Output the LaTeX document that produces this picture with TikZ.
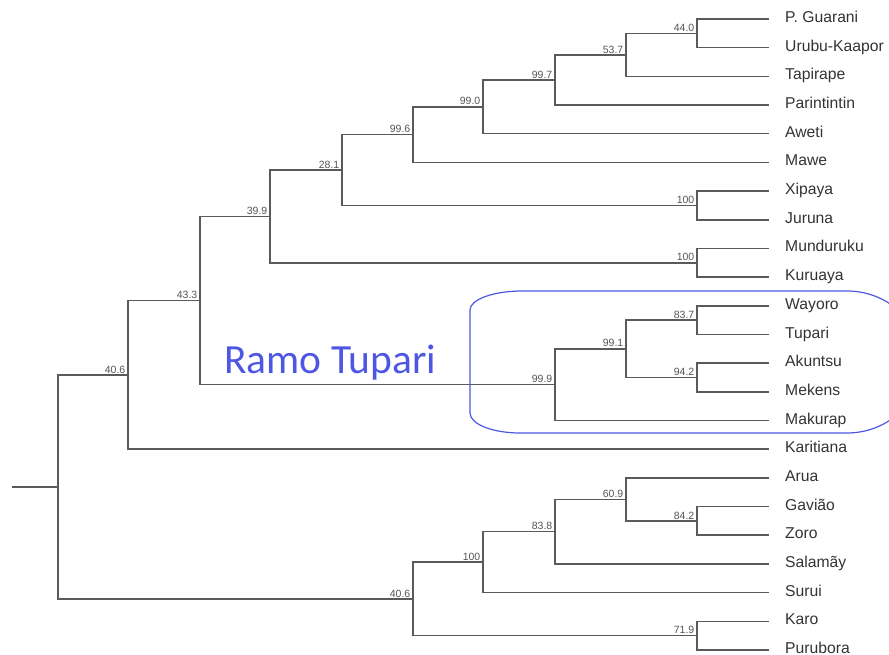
\documentclass[tikz,border=0pt]{standalone}
\usepackage{fontspec}
\setmainfont{Liberation Sans}
\newfontfamily\cladefont{Carlito}
\definecolor{treegray}{HTML}{5A5A5A}
\definecolor{labelgray}{HTML}{333333}
\definecolor{bootgray}{HTML}{555555}
\definecolor{cladeblue}{RGB}{78,86,228}
\begin{document}
\begin{tikzpicture}[x=1pt,y=-1pt,
  branch/.style={draw=treegray, line width=1.6pt},
  taxon/.style={anchor=west, inner xsep=16pt, inner ysep=0pt,
    text height=7pt, text depth=0pt,
    font=\fontsize{15.7}{16}\selectfont, text=labelgray},
  boot/.style={anchor=south east, inner xsep=2.5pt, inner ysep=1.5pt,
    font=\fontsize{10.5}{12}\selectfont, text=bootgray},
  clade/.style={draw=cladeblue, line width=1.2pt}]
\useasboundingbox (0,0) rectangle (889,655);

% taxa (tips of the tree end at x = 769)
\node[taxon] (pguarani)   at (769, 19.0) {P. Guarani};
\node[taxon] (urubu)      at (769, 47.7) {Urubu-Kaapor};
\node[taxon] (tapirape)   at (769, 76.4) {Tapirape};
\node[taxon] (parintin)   at (769,105.0) {Parintintin};
\node[taxon] (aweti)      at (769,133.7) {Aweti};
\node[taxon] (mawe)       at (769,162.4) {Mawe};
\node[taxon] (xipaya)     at (769,191.1) {Xipaya};
\node[taxon] (juruna)     at (769,219.8) {Juruna};
\node[taxon] (munduruku)  at (769,248.4) {Munduruku};
\node[taxon] (kuruaya)    at (769,277.1) {Kuruaya};
\node[taxon] (wayoro)     at (769,305.8) {Wayoro};
\node[taxon] (tupari)     at (769,334.5) {Tupari};
\node[taxon] (akuntsu)    at (769,363.2) {Akuntsu};
\node[taxon] (mekens)     at (769,391.8) {Mekens};
\node[taxon] (makurap)    at (769,420.5) {Makurap};
\node[taxon] (karitiana)  at (769,449.2) {Karitiana};
\node[taxon] (arua)       at (769,477.9) {Arua};
\node[taxon] (gaviao)     at (769,506.6) {Gavião};
\node[taxon] (zoro)       at (769,535.2) {Zoro};
\node[taxon] (salamay)    at (769,563.9) {Salamãy};
\node[taxon] (surui)      at (769,592.6) {Surui};
\node[taxon] (karo)       at (769,621.3) {Karo};
\node[taxon] (purubora)   at (769,650.0) {Purubora};

% internal nodes
\coordinate (n440)  at (697, 33.4);
\coordinate (n537)  at (626, 54.9);
\coordinate (n997)  at (555, 80.0);
\coordinate (n990)  at (483,106.8);
\coordinate (n996)  at (413,134.6);
\coordinate (nxj)   at (697,205.4);
\coordinate (n281)  at (342,170.0);
\coordinate (nmk)   at (697,262.8);
\coordinate (n399)  at (270,216.4);
\coordinate (n837)  at (697,320.1);
\coordinate (n942)  at (697,377.5);
\coordinate (n991)  at (626,348.8);
\coordinate (n999)  at (555,384.6);
\coordinate (n433)  at (200,300.5);
\coordinate (n406a) at (128,374.9);
\coordinate (n842)  at (697,520.9);
\coordinate (n609)  at (626,499.4);
\coordinate (n838)  at (555,531.6);
\coordinate (n100b) at (483,562.1);
\coordinate (n719)  at (697,635.6);
\coordinate (n406b) at (413,598.9);
\coordinate (root)  at (58,486.9);
\coordinate (stub)  at (12,486.9);

% branches
\draw[branch] (stub) -- (root);
\draw[branch] (root) |- (n406a);
\draw[branch] (root) |- (n406b);
\draw[branch] (n406a) |- (n433);
\draw[branch] (n406a) |- (karitiana.west);
\draw[branch] (n433) |- (n399);
\draw[branch] (n433) |- (n999);
\draw[branch] (n399) |- (n281);
\draw[branch] (n399) |- (nmk);
\draw[branch] (n281) |- (n996);
\draw[branch] (n281) |- (nxj);
\draw[branch] (n996) |- (n990);
\draw[branch] (n996) |- (mawe.west);
\draw[branch] (n990) |- (n997);
\draw[branch] (n990) |- (aweti.west);
\draw[branch] (n997) |- (n537);
\draw[branch] (n997) |- (parintin.west);
\draw[branch] (n537) |- (n440);
\draw[branch] (n537) |- (tapirape.west);
\draw[branch] (n440) |- (pguarani.west);
\draw[branch] (n440) |- (urubu.west);
\draw[branch] (nxj) |- (xipaya.west);
\draw[branch] (nxj) |- (juruna.west);
\draw[branch] (nmk) |- (munduruku.west);
\draw[branch] (nmk) |- (kuruaya.west);
\draw[branch] (n999) |- (n991);
\draw[branch] (n999) |- (makurap.west);
\draw[branch] (n991) |- (n837);
\draw[branch] (n991) |- (n942);
\draw[branch] (n837) |- (wayoro.west);
\draw[branch] (n837) |- (tupari.west);
\draw[branch] (n942) |- (akuntsu.west);
\draw[branch] (n942) |- (mekens.west);
\draw[branch] (n406b) |- (n100b);
\draw[branch] (n406b) |- (n719);
\draw[branch] (n100b) |- (n838);
\draw[branch] (n100b) |- (surui.west);
\draw[branch] (n838) |- (n609);
\draw[branch] (n838) |- (salamay.west);
\draw[branch] (n609) |- (arua.west);
\draw[branch] (n609) |- (n842);
\draw[branch] (n842) |- (gaviao.west);
\draw[branch] (n842) |- (zoro.west);
\draw[branch] (n719) |- (karo.west);
\draw[branch] (n719) |- (purubora.west);

% bootstrap support values
\node[boot] (b440)  at (n440)  {44.0};
\node[boot] (b537)  at (n537)  {53.7};
\node[boot] (b997)  at (n997)  {99.7};
\node[boot] (b990)  at (n990)  {99.0};
\node[boot] (b996)  at (n996)  {99.6};
\node[boot] (bxj)   at (nxj)   {100};
\node[boot] (b281)  at (n281)  {28.1};
\node[boot] (bmk)   at (nmk)   {100};
\node[boot] (b399)  at (n399)  {39.9};
\node[boot] (b837)  at (n837)  {83.7};
\node[boot] (b942)  at (n942)  {94.2};
\node[boot] (b991)  at (n991)  {99.1};
\node[boot] (b999)  at (n999)  {99.9};
\node[boot] (b433)  at (n433)  {43.3};
\node[boot] (b406a) at (n406a) {40.6};
\node[boot] (b842)  at (n842)  {84.2};
\node[boot] (b609)  at (n609)  {60.9};
\node[boot] (b838)  at (n838)  {83.8};
\node[boot] (b100b) at (n100b) {100};
\node[boot] (b719)  at (n719)  {71.9};
\node[boot] (b406b) at (n406b) {40.6};

% Tupari branch outline and its caption
\begin{scope}
\clip (0,0) rectangle (889,655);
\draw[clade] (522,291) -- (847,291)
  arc[start angle=-90, end angle=90, x radius=75, y radius=71]
  -- (520,433)
  arc[start angle=90, end angle=180, x radius=50, y radius=20]
  -- (470,310)
  arc[start angle=180, end angle=270, x radius=52, y radius=19]
  -- cycle;
\end{scope}
\node[anchor=base west, inner sep=0pt, text=cladeblue,
  font=\cladefont\fontsize{41.5}{44}\selectfont] (ramo) at (224,373) {Ramo Tupari};
\end{tikzpicture}
\end{document}
